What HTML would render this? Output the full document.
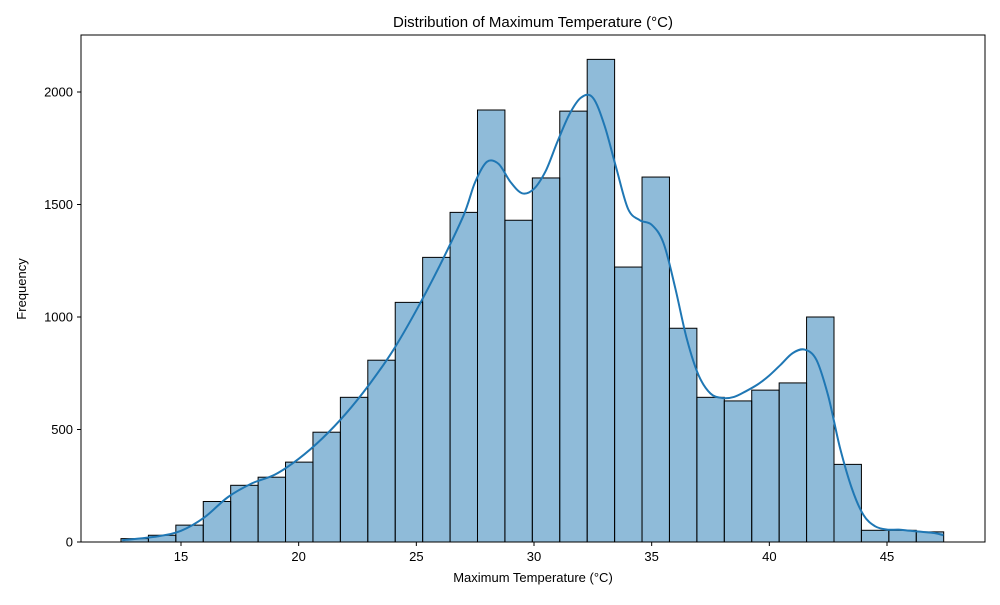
<!DOCTYPE html>
<html><head><meta charset="utf-8"><style>
body{margin:0;background:#fff;}
svg{font-family:"Liberation Sans",sans-serif;}
</style></head><body>
<svg id="chart" width="1000" height="600">
<rect width="1000" height="600" fill="#fff"/>
<text x="533" y="27" text-anchor="middle" font-size="15">Distribution of Maximum Temperature (°C)</text>
<g id="bars"></g>
<path id="kde" fill="none" stroke="#1f77b4" stroke-width="2"/>
<rect x="81" y="35" width="904" height="507" fill="none" stroke="#000" stroke-width="1"/>
<g id="xticks" font-size="13"></g>
<g id="yticks" font-size="13"></g>
<text x="533" y="582" text-anchor="middle" font-size="13">Maximum Temperature (°C)</text>
<text x="26" y="289" text-anchor="middle" font-size="13" transform="rotate(-90 26 289)">Frequency</text>
</svg>
<script>
const binStart = 12.45;
const binWidth = 1.1653;
const counts = [15,30,75,180,252,288,355,488,643,808,1065,1265,1465,1920,1430,1618,1915,2145,1222,1622,950,643,627,675,707,1000,345,52,52,45];
const kdeX = [12.5,14,15,16,17,18,19,20,21,22,23,24,25,26,27,27.5,28,28.5,29,29.5,30,30.5,31,31.5,32,32.5,33,33.5,34,34.5,35,35.5,36,36.5,37,37.5,38,38.5,39,39.5,40,40.5,41,41.5,42,42.5,43,43.5,44,44.5,45,45.5,46,47,47.4];
const kdeY = [8,25,50,110,200,260,300,370,460,570,700,850,1030,1230,1450,1600,1690,1680,1600,1550,1570,1650,1780,1900,1975,1975,1850,1660,1480,1430,1410,1330,1130,900,740,660,640,645,670,700,740,790,840,855,810,650,420,240,120,70,55,55,50,40,30];
const xTicks = [15,20,25,30,35,40,45];
const yTicks = [0,500,1000,1500,2000];
const NS="http://www.w3.org/2000/svg";
const xs = v => 181 + (v-15)*(706/30);
const ys = v => 542 - v*0.225;
const bars=document.getElementById('bars');
counts.forEach((c,i)=>{
  const r=document.createElementNS(NS,'rect');
  const x0=xs(binStart+i*binWidth), x1=xs(binStart+(i+1)*binWidth);
  r.setAttribute('x',x0);r.setAttribute('y',ys(c));
  r.setAttribute('width',x1-x0);r.setAttribute('height',542-ys(c));
  r.setAttribute('fill','rgba(31,119,180,0.5)');r.setAttribute('stroke','#000');r.setAttribute('stroke-width','1');
  
  
  bars.appendChild(r);
});
const P=kdeX.map((x,i)=>[xs(x),ys(kdeY[i])]);
let d='M'+P[0][0].toFixed(1)+','+P[0][1].toFixed(1);
for(let i=0;i<P.length-1;i++){
  const p0=P[Math.max(0,i-1)],p1=P[i],p2=P[i+1],p3=P[Math.min(P.length-1,i+2)];
  const c1=[p1[0]+(p2[0]-p0[0])/6,p1[1]+(p2[1]-p0[1])/6];
  const c2=[p2[0]-(p3[0]-p1[0])/6,p2[1]-(p3[1]-p1[1])/6];
  d+='C'+c1[0].toFixed(1)+','+c1[1].toFixed(1)+' '+c2[0].toFixed(1)+','+c2[1].toFixed(1)+' '+p2[0].toFixed(1)+','+p2[1].toFixed(1);
}
document.getElementById('kde').setAttribute('d',d);
const xg=document.getElementById('xticks');
xTicks.forEach(t=>{
  const l=document.createElementNS(NS,'line');
  l.setAttribute('x1',xs(t));l.setAttribute('x2',xs(t));l.setAttribute('y1',542);l.setAttribute('y2',546);l.setAttribute('stroke','#000');
  
  
  xg.appendChild(l);
  const tx=document.createElementNS(NS,'text');
  tx.setAttribute('x',xs(t));tx.setAttribute('y',561);tx.setAttribute('text-anchor','middle');tx.textContent=t;
  
  
  xg.appendChild(tx);
});
const yg=document.getElementById('yticks');
yTicks.forEach(t=>{
  const l=document.createElementNS(NS,'line');
  l.setAttribute('x1',77);l.setAttribute('x2',81);l.setAttribute('y1',ys(t));l.setAttribute('y2',ys(t));l.setAttribute('stroke','#000');
  
  
  yg.appendChild(l);
  const tx=document.createElementNS(NS,'text');
  tx.setAttribute('x',73);tx.setAttribute('y',ys(t)+4.5);tx.setAttribute('text-anchor','end');tx.textContent=t;
  
  
  yg.appendChild(tx);
});
</script>
</body></html>
